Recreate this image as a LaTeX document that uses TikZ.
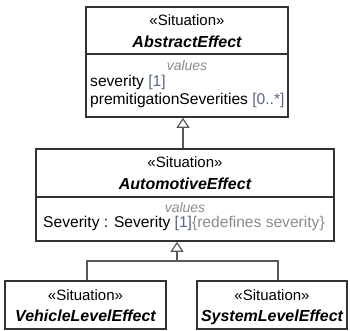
\documentclass[tikz,border=0pt]{standalone}
\usepackage{fontspec}
\setmainfont{Liberation Sans}
\usetikzlibrary{arrows.meta}

\definecolor{umlline}{HTML}{333333}
\definecolor{umlgray}{HTML}{8C8C8C}
\definecolor{umlmult}{HTML}{5A6785}

\tikzset{
  umlbox/.style={draw=umlline,line width=1.6pt,fill=white,inner sep=0pt},
  stereo/.style={anchor=base,inner sep=0pt,font=\fontsize{15pt}{18pt}\selectfont},
  clsname/.style={anchor=base,inner sep=0pt,font=\fontsize{16pt}{19pt}\selectfont\bfseries\itshape},
  compart/.style={anchor=base,inner sep=0pt,text=umlgray,font=\fontsize{14pt}{17pt}\selectfont\itshape},
  attr/.style={anchor=base west,inner sep=0pt,font=\fontsize{15.6pt}{18pt}\selectfont},
  conn/.style={draw=black!65,line width=1.4pt},
  gen/.style={conn,-{Triangle[open,width=13pt,length=10pt,line width=1.2pt]}}
}

\begin{document}
\begin{tikzpicture}[x=1pt,y=-1pt]
    \useasboundingbox (0,0) rectangle (350,331);

    \node[umlbox,minimum width=202pt,minimum height=110pt] (abstract) at (187,62) {};
    \draw[umlline,line width=1.4pt] (86,54) -- (288,54);
    \node[stereo] (abstract-st) at (187,26) {«Situation»};
    \node[clsname] (abstract-nm) at (187,47.5) {AbstractEffect};
    \node[compart] (abstract-val) at (187,71) {values};
    \node[attr] (abstract-a1) at (90,87) {severity \textcolor{umlmult}{[1]}};
    \node[attr] (abstract-a2) at (90,104.5) {premitigationSeverities \textcolor{umlmult}{[0..*]}};

    \node[umlbox,minimum width=298pt,minimum height=92pt] (automotive) at (185,195) {};
    \draw[umlline,line width=1.4pt] (36,197) -- (334,197);
    \node[stereo] (automotive-st) at (185,167) {«Situation»};
    \node[clsname] (automotive-nm) at (185,189) {AutomotiveEffect};
    \node[compart] (automotive-val) at (185,212) {values};
    \node[attr,anchor=base] (automotive-a1) at (184,227) {Severity : Severity \textcolor{umlmult}{[1]}\textcolor{umlgray}{\{redefines severity\}}};

    \node[umlbox,minimum width=161pt,minimum height=48pt] (vehicle) at (85.5,305) {};
    \node[stereo] (vehicle-st) at (85.5,300) {«Situation»};
    \node[clsname] (vehicle-nm) at (85.5,321) {VehicleLevelEffect};

    \node[umlbox,minimum width=150pt,minimum height=48pt] (system) at (272,305) {};
    \node[stereo] (system-st) at (272,300) {«Situation»};
    \node[clsname] (system-nm) at (272,321) {SystemLevelEffect};

    \coordinate (join) at (177,261);
    \draw[conn] ([xshift=1.5pt]vehicle.north) |- (join) -| ([xshift=6pt]system.north);
    \draw[gen] (join) -- (join |- automotive.south);
    \draw[gen] ([xshift=-2pt]automotive.north) -- ([xshift=-2pt]automotive.north |- abstract.south);
\end{tikzpicture}
\end{document}
